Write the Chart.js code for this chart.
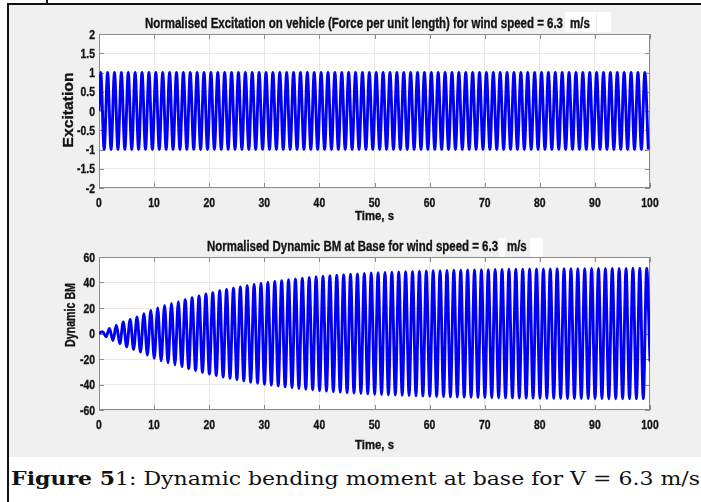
<!DOCTYPE html>
<html><head><meta charset="utf-8">
<script src="https://cdn.jsdelivr.net/npm/chart.js@4.4.1/dist/chart.umd.min.js"></script>
<style>
html,body{margin:0;padding:0;background:#fff;}
#fig{position:absolute;left:0;top:0;width:701px;height:502px;overflow:hidden;background:#fff;}
#gray{position:absolute;left:9px;top:5px;width:692px;height:452px;background:#f0f0f0;}
#topline{position:absolute;left:7px;top:3px;width:694px;height:2px;background:#111;}
#leftline{position:absolute;left:7px;top:3px;width:2px;height:499px;background:#111;}
#stub{position:absolute;left:46px;top:0;width:2px;height:4px;background:#111;}
canvas{position:absolute;left:0;}
#c1{top:0;}
#c2{top:230px;}
#caption{position:absolute;left:11px;top:470px;font-family:"DejaVu Serif","Liberation Serif",serif;font-size:18px;line-height:18px;white-space:nowrap;color:#111;transform-origin:0 0;}
</style></head>
<body>
<div id="fig">
  <div id="gray"></div>
  <div id="topline"></div>
  <div id="leftline"></div>
  <div id="stub"></div>
  <canvas id="c1" width="701" height="230"></canvas>
  <canvas id="c2" width="701" height="228"></canvas>
  <div id="caption"><b>Figure 5</b>1: Dynamic bending moment at base for V = 6.3 m/s</div>
</div>
<script>
// ---------- data ----------
const timeTicks = [0,10,20,30,40,50,60,70,80,90,100];
const excTicks = [-2,-1.5,-1,-0.5,0,0.5,1,1.5,2];
const bmTicks = [-60,-40,-20,0,20,40,60];

// excitation: start, then alternating crest / trough times (s)
const excTime = [0,
 0.31,0.94,1.56,2.19,2.81,3.44,4.06,4.69,
 5.31,5.94,6.56,7.19,7.81,8.44,9.06,9.69,
 10.31,10.94,11.56,12.19,12.81,13.44,14.06,14.69,
 15.31,15.94,16.56,17.19,17.81,18.44,19.06,19.69,
 20.31,20.94,21.56,22.19,22.81,23.44,24.06,24.69,
 25.31,25.94,26.56,27.19,27.81,28.44,29.06,29.69,
 30.31,30.94,31.56,32.19,32.81,33.44,34.06,34.69,
 35.31,35.94,36.56,37.19,37.81,38.44,39.06,39.69,
 40.31,40.94,41.56,42.19,42.81,43.44,44.06,44.69,
 45.31,45.94,46.56,47.19,47.81,48.44,49.06,49.69,
 50.31,50.94,51.56,52.19,52.81,53.44,54.06,54.69,
 55.31,55.94,56.56,57.19,57.81,58.44,59.06,59.69,
 60.31,60.94,61.56,62.19,62.81,63.44,64.06,64.69,
 65.31,65.94,66.56,67.19,67.81,68.44,69.06,69.69,
 70.31,70.94,71.56,72.19,72.81,73.44,74.06,74.69,
 75.31,75.94,76.56,77.19,77.81,78.44,79.06,79.69,
 80.31,80.94,81.56,82.19,82.81,83.44,84.06,84.69,
 85.31,85.94,86.56,87.19,87.81,88.44,89.06,89.69,
 90.31,90.94,91.56,92.19,92.81,93.44,94.06,94.69,
 95.31,95.94,96.56,97.19,97.81,98.44,99.06,99.69];
const excValue = [0,
 1,-1,1,-1,1,-1,1,-1, 1,-1,1,-1,1,-1,1,-1,
 1,-1,1,-1,1,-1,1,-1, 1,-1,1,-1,1,-1,1,-1,
 1,-1,1,-1,1,-1,1,-1, 1,-1,1,-1,1,-1,1,-1,
 1,-1,1,-1,1,-1,1,-1, 1,-1,1,-1,1,-1,1,-1,
 1,-1,1,-1,1,-1,1,-1, 1,-1,1,-1,1,-1,1,-1,
 1,-1,1,-1,1,-1,1,-1, 1,-1,1,-1,1,-1,1,-1,
 1,-1,1,-1,1,-1,1,-1, 1,-1,1,-1,1,-1,1,-1,
 1,-1,1,-1,1,-1,1,-1, 1,-1,1,-1,1,-1,1,-1,
 1,-1,1,-1,1,-1,1,-1, 1,-1,1,-1,1,-1,1,-1,
 1,-1,1,-1,1,-1,1,-1, 1,-1,1,-1,1,-1,1,-1];

// dynamic BM: start, alternating crest / trough times (s), end
const bmTime = [0,
 0.65,1.28,1.9,2.53,3.15,3.78,4.4,5.03,
 5.65,6.28,6.9,7.53,8.15,8.78,9.4,10.03,
 10.65,11.28,11.9,12.53,13.15,13.78,14.4,15.03,
 15.65,16.28,16.9,17.53,18.15,18.78,19.4,20.03,
 20.65,21.28,21.9,22.53,23.15,23.78,24.4,25.03,
 25.65,26.28,26.9,27.53,28.15,28.78,29.4,30.03,
 30.65,31.28,31.9,32.53,33.15,33.78,34.4,35.03,
 35.65,36.28,36.9,37.53,38.15,38.78,39.4,40.03,
 40.65,41.28,41.9,42.53,43.15,43.78,44.4,45.03,
 45.65,46.28,46.9,47.53,48.15,48.78,49.4,50.03,
 50.65,51.28,51.9,52.53,53.15,53.78,54.4,55.03,
 55.65,56.28,56.9,57.53,58.15,58.78,59.4,60.03,
 60.65,61.28,61.9,62.53,63.15,63.78,64.4,65.03,
 65.65,66.28,66.9,67.53,68.15,68.78,69.4,70.03,
 70.65,71.28,71.9,72.53,73.15,73.78,74.4,75.03,
 75.65,76.28,76.9,77.53,78.15,78.78,79.4,80.03,
 80.65,81.28,81.9,82.53,83.15,83.78,84.4,85.03,
 85.65,86.28,86.9,87.53,88.15,88.78,89.4,90.03,
 90.65,91.28,91.9,92.53,93.15,93.78,94.4,95.03,
 95.65,96.28,96.9,97.53,98.15,98.78,99.4,100];
const bmCrests = [1.5,4,6.5,9,11,13,15.5,18,20,22,
 23.5,25,26.5,28,29.5,31,32,33.5,34.5,35.5,
 36.5,37.5,38.5,39.3,40,40.8,41.5,42.2,42.8,43.4,
 44,44.5,45,45.4,45.8,46.2,46.5,46.8,47.1,47.4,
 47.6,47.9,48.1,48.3,48.5,48.7,48.9,49,49.2,49.3,
 49.5,49.6,49.7,49.8,49.9,50,50.1,50.2,50.3,50.4,
 50.4,50.5,50.6,50.6,50.7,50.7,50.8,50.8,50.9,50.9,
 50.9,51,51,51,51.1,51.1,51.1,51.2,51.2,51.2];
const bmTroughs = [-2.5,-5.5,-8,-10.5,-12.5,-14.5,-17,-19.5,-21.5,-23,
 -24.5,-26,-27.5,-29,-30.5,-31.8,-33,-34.2,-35.2,-36.2,
 -37.2,-38.2,-39,-39.8,-40.5,-41.2,-41.9,-42.5,-43.1,-43.7,
 -44.2,-44.7,-45.2,-45.6,-46,-46.4,-46.7,-47,-47.3,-47.6,
 -47.8,-48.1,-48.3,-48.5,-48.7,-48.9,-49.1,-49.2,-49.4,-49.5,
 -49.7,-49.8,-49.9,-50,-50.1,-50.2,-50.3,-50.4,-50.5,-50.5,
 -50.6,-50.7,-50.7,-50.8,-50.8,-50.9,-50.9,-51,-51,-51,
 -51.1,-51.1,-51.1,-51.2,-51.2,-51.2,-51.2,-51.3,-51.3];
const bmStart = 0, bmEnd = -22;

const topTitle = ['Normalised Excitation on vehicle (Force per unit length) for wind speed = 6.3', 'm/s'];
const botTitle = ['Normalised Dynamic BM at Base for wind speed = 6.3', 'm/s'];
const xTitle = 'Time, s';

// ---------- build ----------
const bmValue = [bmStart];
for (let i = 0; i < bmCrests.length; i++) {
  bmValue.push(bmCrests[i]);
  if (i < bmTroughs.length) bmValue.push(bmTroughs[i]);
}
bmValue.push(bmEnd);

const FAM = '"Liberation Sans",Arial,sans-serif';
const TXT = '#141414';
const NARROW = 0.8;

function drawText(ctx, text, x, y, size, align, sx, rot) {
  ctx.save();
  ctx.font = 'bold ' + size + 'px ' + FAM;
  ctx.fillStyle = TXT;
  ctx.strokeStyle = TXT;
  ctx.lineWidth = 0.35;
  ctx.textBaseline = 'alphabetic';
  ctx.textAlign = align;
  ctx.translate(x, y);
  if (rot) ctx.rotate(rot);
  ctx.scale(sx, 1);
  ctx.fillText(text, 0, 0);
  ctx.strokeText(text, 0, 0);
  ctx.restore();
}
function textWidth(ctx, text, size) {
  ctx.save();
  ctx.font = 'bold ' + size + 'px ' + FAM;
  const w = ctx.measureText(text).width;
  ctx.restore();
  return w;
}
const fmt = v => String(v);

const matlabAxes = {
  id: 'matlabAxes',
  beforeDraw(chart, args, o) {
    const {ctx, chartArea: a} = chart;
    ctx.save();
    ctx.fillStyle = '#fff';
    ctx.fillRect(a.left, a.top, a.right - a.left, a.bottom - a.top);
    o.boxes.forEach(b => ctx.fillRect(b[0], b[1], b[2], b[3]));
    ctx.restore();
  },
  beforeDatasetsDraw(chart) {
    const {ctx, chartArea: a, scales} = chart;
    const x = scales.x, y = scales.y;
    ctx.save();
    ctx.strokeStyle = '#8c8c8c';
    ctx.lineWidth = 1;
    ctx.strokeRect(a.left + 0.5, a.top + 0.5, a.right - a.left - 1, a.bottom - a.top - 1);
    ctx.beginPath();
    x.ticks.forEach(t => {
      const px = Math.round(x.getPixelForValue(t.value)) + 0.5;
      ctx.moveTo(px, a.bottom); ctx.lineTo(px, a.bottom - 5);
      ctx.moveTo(px, a.top); ctx.lineTo(px, a.top + 5);
    });
    y.ticks.forEach(t => {
      const py = Math.round(y.getPixelForValue(t.value)) + 0.5;
      ctx.moveTo(a.left, py); ctx.lineTo(a.left + 5, py);
      ctx.moveTo(a.right, py); ctx.lineTo(a.right - 5, py);
    });
    ctx.stroke();
    ctx.restore();
  },
  afterDraw(chart, args, o) {
    const {ctx, chartArea: a, scales} = chart;
    const x = scales.x, y = scales.y;
    const ts = 13;
    // tick labels placed by the library's scales
    x.ticks.forEach(t => drawText(ctx, fmt(t.value), x.getPixelForValue(t.value), a.bottom + o.xTickBase, ts, 'center', NARROW, 0));
    y.ticks.forEach(t => drawText(ctx, fmt(t.value), a.left - 4, y.getPixelForValue(t.value) + 0.358 * ts, ts, 'right', NARROW, 0));
    // x axis title
    const xs = 13.5;
    drawText(ctx, xTitle, (a.left + a.right) / 2, a.bottom + o.xTitleBase, xs, 'center', 0.84, 0);
    // y axis title (fitted to its length on the reference)
    const yt = o.yTitle;
    const yw = textWidth(ctx, yt.text, yt.size);
    drawText(ctx, yt.text, yt.cx + 0.358 * yt.size, yt.cy, yt.size, 'center', yt.len / yw, -Math.PI / 2);
    // chart title, fitted to its width on the reference
    const tt = o.title;
    const w1 = textWidth(ctx, tt.parts[0], 14.5);
    const sx = tt.len / w1;
    drawText(ctx, tt.parts[0], tt.x, tt.base, 14.5, 'left', sx, 0);
    drawText(ctx, tt.parts[1], tt.x2, tt.base, 14.5, 'left', sx, 0);
  }
};

function makeChart(id, time, values, yTicks, c) {
  const pts = time.map((t, i) => ({x: t, y: values[i]}));
  return new Chart(document.getElementById(id), {
    type: 'line',
    data: {datasets: [{data: pts, borderColor: '#0000f5', borderWidth: 2.9, pointRadius: 0,
      cubicInterpolationMode: 'monotone', fill: false}]},
    plugins: [matlabAxes],
    options: {
      responsive: false, animation: false, events: [],
      layout: {padding: {left: 20, right: 51, top: c.padTop, bottom: 0}},
      plugins: {
        legend: {display: false}, tooltip: {enabled: false}, title: {display: false},
        matlabAxes: c.deco
      },
      scales: {
        x: {
          type: 'linear', min: 0, max: 100,
          afterBuildTicks: s => { s.ticks = timeTicks.map(v => ({value: v})); },
          afterFit: s => { s.height = c.xHeight; s.paddingLeft = 0; s.paddingRight = 0; },
          grid: {color: '#e8e8e8', drawTicks: false},
          border: {display: false},
          ticks: {display: false}
        },
        y: {
          type: 'linear', min: yTicks[0], max: yTicks[yTicks.length - 1],
          afterBuildTicks: s => { s.ticks = yTicks.map(v => ({value: v})); },
          afterFit: s => { s.width = 79; s.paddingTop = 0; s.paddingBottom = 0; },
          grid: {color: '#e8e8e8', drawTicks: false},
          border: {display: false},
          ticks: {display: false}
        }
      }
    }
  });
}

makeChart('c1', excTime, excValue, excTicks, {
  padTop: 34, xHeight: 42,
  deco: {
    xTickBase: 19, xTitleBase: 32,
    yTitle: {text: 'Excitation', size: 15, cx: 68, cy: 110, len: 75},
    title: {parts: topTitle, x: 145, x2: 570, base: 28.3, len: 418},
    boxes: [[565, 12, 31, 20], [597, 12, 14, 20]]
  }
});
makeChart('c2', bmTime, bmValue, bmTicks, {
  padTop: 27, xHeight: 48,
  deco: {
    xTickBase: 18.5, xTitleBase: 38.7,
    yTitle: {text: 'Dynamic BM', size: 14.5, cx: 70, cy: 85, len: 64},
    title: {parts: botTitle, x: 207, x2: 507, base: 20.7, len: 291},
    boxes: [[499, 8, 6, 20], [530, 8, 13, 20]]
  }
});

// caption fitted to the reference width
const cap = document.getElementById('caption');
const target = 689;
const w = cap.getBoundingClientRect().width;
cap.style.transform = 'scaleX(' + (target / w) + ')';
</script>
</body></html>
